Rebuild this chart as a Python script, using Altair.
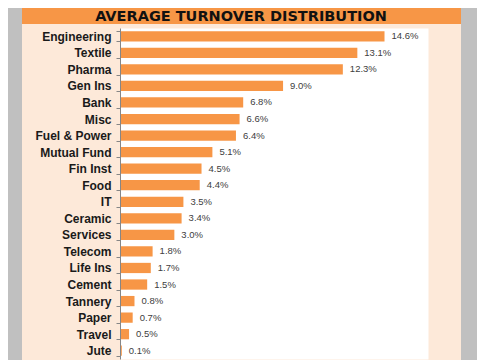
import altair as alt
import pandas as pd

categories = ["Engineering", "Textile", "Pharma", "Gen Ins", "Bank", "Misc",
              "Fuel & Power", "Mutual Fund", "Fin Inst", "Food", "IT", "Ceramic",
              "Services", "Telecom", "Life Ins", "Cement", "Tannery", "Paper",
              "Travel", "Jute"]
values = [14.6, 13.1, 12.3, 9.0, 6.8, 6.6, 6.4, 5.1, 4.5, 4.4, 3.5, 3.4,
          3.0, 1.8, 1.7, 1.5, 0.8, 0.7, 0.5, 0.1]
title_text = "AVERAGE TURNOVER DISTRIBUTION"

df = pd.DataFrame({"sector": categories, "value": values})
df["label"] = [f"{v:.1f}%" for v in values]

ORANGE = "#f79646"
PEACH = "#fde9d9"
GRAY = "#c0c0c0"

W, H = 308, 331
one = alt.Data(values=[{}])

left_gray = alt.Chart(one).mark_rect(color=GRAY).encode(
    x=alt.value(-112), x2=alt.value(-98), y=alt.value(-20), y2=alt.value(H + 1))
right_gray = alt.Chart(one).mark_rect(color=GRAY).encode(
    x=alt.value(341), x2=alt.value(360), y=alt.value(-20), y2=alt.value(H + 1))
title_bar = alt.Chart(one).mark_rect(color=ORANGE).encode(
    x=alt.value(-98), x2=alt.value(341), y=alt.value(-20), y2=alt.value(-4))
title_mark = alt.Chart(alt.Data(values=[{"t": title_text}])).mark_text(
    align="center", baseline="middle", font="DejaVu Sans", fontSize=14.5,
    fontWeight="bold", color="#111111").encode(
    x=alt.value(121), y=alt.value(-11.5), text="t:N")

ysc = alt.Y("sector:N", sort=categories,
            scale=alt.Scale(paddingInner=0.38, paddingOuter=0.19),
            axis=alt.Axis(title=None, labelFont="Liberation Sans", labelFontWeight="bold",
                          labelFontSize=12, labelColor="#1a1a1a", domainColor="#868686",
                          tickColor="#868686", tickSize=4, tickBand="extent",
                          labelPadding=5, grid=False, zindex=1))
xsc = alt.X("value:Q", scale=alt.Scale(domain=[0, 17]), axis=None)

bars = alt.Chart(df).mark_bar(color=ORANGE).encode(x=xsc, y=ysc)
labels = alt.Chart(df).mark_text(align="left", baseline="middle", dx=7,
                                 font="Liberation Sans", fontSize=9.5,
                                 color="#404040").encode(x=xsc, y=ysc, text="label:N")

chart = alt.layer(left_gray, right_gray, title_bar, title_mark, bars, labels).properties(
    width=W, height=H,
    background=PEACH,
    padding={"left": 112, "top": 20, "right": 49, "bottom": 1},
    autosize=alt.AutoSizeParams(type="none"),
).configure_view(fill="white", stroke="transparent")

chart.save("out.html", embed_options={"renderer": "svg", "actions": False})
